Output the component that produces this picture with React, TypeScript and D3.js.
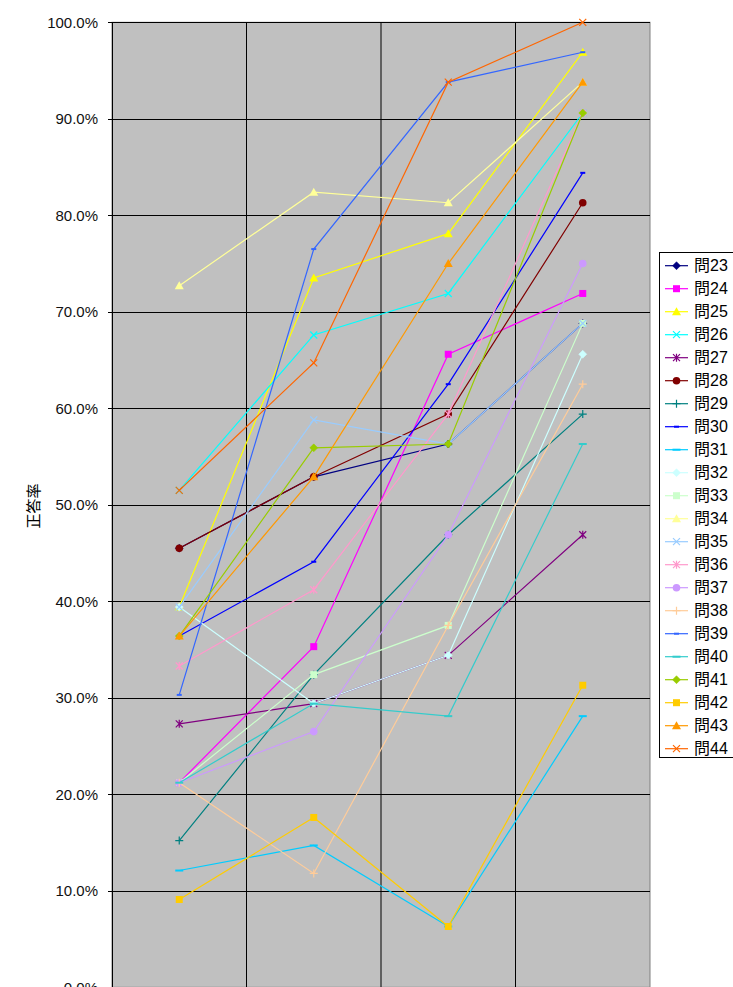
import React from 'react';
import * as d3 from 'd3';

const categories = ['1', '2', '3', '4'];
const yTicks = [0, 10, 20, 30, 40, 50, 60, 70, 80, 90, 100];

const seriesNames = ['問23', '問24', '問25', '問26', '問27', '問28', '問29', '問30', '問31', '問32', '問33',
  '問34', '問35', '問36', '問37', '問38', '問39', '問40', '問41', '問42', '問43', '問44'];

const seriesColors = ['#000080', '#FF00FF', '#FFFF00', '#00FFFF', '#800080', '#800000', '#008080', '#0000FF',
  '#00CCFF', '#CCFFFF', '#CCFFCC', '#FFFF99', '#99CCFF', '#FF99CC', '#CC99FF', '#FFCC99', '#3366FF',
  '#33CCCC', '#99CC00', '#FFCC00', '#FF9900', '#FF6600'];

const seriesMarkers = ['diamond', 'square', 'triangle', 'x', 'star', 'circle', 'plus', 'dash', 'longdash',
  'diamond', 'square', 'triangle', 'x', 'star', 'circle', 'plus', 'dash', 'longdash',
  'diamond', 'square', 'triangle', 'x'];

const q23 = [45.5, 52.9, 56.3, 68.8];
const q24 = [21.2, 35.3, 65.6, 71.9];
const q25 = [39.4, 73.5, 78.1, 96.9];
const q26 = [51.5, 67.6, 71.9, 90.6];
const q27 = [27.3, 29.4, 34.4, 46.9];
const q28 = [45.5, 52.9, 59.4, 81.3];
const q29 = [15.2, 32.4, 46.9, 59.4];
const q30 = [36.4, 44.1, 62.5, 84.4];
const q31 = [12.1, 14.7, 6.3, 28.1];
const q32 = [39.4, 29.4, 34.4, 65.6];
const q33 = [21.2, 32.4, 37.5, 68.8];
const q34 = [72.7, 82.4, 81.3, 93.8];
const q35 = [39.4, 58.8, 56.3, 68.8];
const q36 = [33.3, 41.2, 59.4, 90.6];
const q37 = [21.2, 26.5, 46.9, 75.0];
const q38 = [21.2, 11.8, 37.5, 62.5];
const q39 = [30.3, 76.5, 93.8, 96.9];
const q40 = [21.2, 29.4, 28.1, 56.3];
const q41 = [36.4, 55.9, 56.3, 90.6];
const q42 = [9.1, 17.6, 6.3, 31.3];
const q43 = [36.4, 52.9, 75.0, 93.8];
const q44 = [51.5, 64.7, 93.8, 100.0];

const seriesValues = [q23, q24, q25, q26, q27, q28, q29, q30, q31, q32, q33, q34, q35, q36, q37, q38, q39, q40, q41, q42, q43, q44];

function Marker({ type, cx, cy, color }: { type: string; cx: number; cy: number; color: string }) {
  switch (type) {
    case 'diamond':
      return <path d={`M${cx},${cy - 4}L${cx + 4},${cy}L${cx},${cy + 4}L${cx - 4},${cy}Z`} fill={color} stroke={color} strokeWidth={0.5} />;
    case 'square':
      return <rect x={cx - 3.5} y={cy - 3.5} width={7} height={7} fill={color} />;
    case 'triangle':
      return <path d={`M${cx},${cy - 4.5}L${cx + 4.5},${cy + 3.5}L${cx - 4.5},${cy + 3.5}Z`} fill={color} />;
    case 'x':
      return <path d={`M${cx - 3.5},${cy - 3.5}L${cx + 3.5},${cy + 3.5}M${cx + 3.5},${cy - 3.5}L${cx - 3.5},${cy + 3.5}`} stroke={color} strokeWidth={1.2} fill="none" />;
    case 'star':
      return <path d={`M${cx - 3.5},${cy - 3.5}L${cx + 3.5},${cy + 3.5}M${cx + 3.5},${cy - 3.5}L${cx - 3.5},${cy + 3.5}M${cx},${cy - 4}L${cx},${cy + 4}`} stroke={color} strokeWidth={1.2} fill="none" />;
    case 'circle':
      return <circle cx={cx} cy={cy} r={3.8} fill={color} />;
    case 'plus':
      return <path d={`M${cx - 4},${cy}L${cx + 4},${cy}M${cx},${cy - 4}L${cx},${cy + 4}`} stroke={color} strokeWidth={1.2} fill="none" />;
    case 'dash':
      return <rect x={cx - 2.5} y={cy - 1} width={5} height={2} fill={color} />;
    case 'longdash':
      return <rect x={cx - 4} y={cy - 1} width={8} height={2} fill={color} />;
    default:
      return null;
  }
}

export default function App() {
  const W = 733, H = 987;
  const left = 112, right = 650, top = 22.3, bottom = 987.3;
  const x = d3.scaleBand<string>().domain(categories).range([left, right]).paddingInner(0).paddingOuter(0);
  const bw = x.bandwidth();
  const cx = (c: string) => (x(c) as number) + bw / 2;
  const y = d3.scaleLinear().domain([0, 100]).range([bottom, top]);
  const line = d3.line<number>().x((_, i) => cx(categories[i])).y((v) => y(v));
  const fmt = (v: number) => d3.format('.1f')(v) + '%';

  const legendTop = 252.5;
  const legendRow0 = 265.7;
  const legendStep = 23;

  return (
    <svg width={W} height={H} style={{ position: 'absolute', left: 0, top: 0, background: '#fff' }}
      fontFamily="'Liberation Sans', 'Noto Sans CJK JP', sans-serif">
      <rect x={left} y={top} width={right - left} height={bottom - top} fill="#C0C0C0" stroke="#808080" strokeWidth={1} />
      {yTicks.map((t) => (
        <line key={'h' + t} x1={left} x2={right} y1={Math.round(y(t)) + 0.5} y2={Math.round(y(t)) + 0.5} stroke="#000" strokeWidth={1} />
      ))}
      {categories.slice(1).map((c) => (
        <line key={'v' + c} x1={(x(c) as number)} x2={(x(c) as number)} y1={top} y2={bottom} stroke="#000" strokeWidth={1} />
      ))}
      <line x1={left + 0.5} x2={left + 0.5} y1={top} y2={bottom} stroke="#000" strokeWidth={1} />
      {yTicks.map((t) => (
        <line key={'tk' + t} x1={left - 4} x2={left} y1={Math.round(y(t)) + 0.5} y2={Math.round(y(t)) + 0.5} stroke="#000" strokeWidth={1} />
      ))}
      {yTicks.map((t) => (
        <text key={'tl' + t} x={98} y={y(t)} dy="0.36em" textAnchor="end" fontSize={15} fill="#111">{fmt(t)}</text>
      ))}
      <text transform={`translate(34,506) rotate(-90)`} textAnchor="middle" dy="0.35em" fontSize={15} fill="#000"
        fontFamily="'Noto Sans CJK JP', sans-serif">正答率</text>

      {seriesValues.map((vals, si) => (
        <g key={'s' + si}>
          <path d={line(vals) || ''} fill="none" stroke={seriesColors[si]} strokeWidth={1.2} />
          {vals.map((v, i) => (
            <Marker key={i} type={seriesMarkers[si]} cx={cx(categories[i])} cy={y(v)} color={seriesColors[si]} />
          ))}
        </g>
      ))}

      <rect x={659.5} y={legendTop} width={90} height={505} fill="#fff" stroke="#000" strokeWidth={1} />
      {seriesNames.map((name, si) => {
        const ly = legendRow0 + si * legendStep;
        return (
          <g key={'lg' + si}>
            <line x1={665} x2={688} y1={ly} y2={ly} stroke={seriesColors[si]} strokeWidth={1.2} />
            <Marker type={seriesMarkers[si]} cx={676.5} cy={ly} color={seriesColors[si]} />
            <text x={694} y={ly} dy="0.36em" fontSize={16} fill="#000">{name}</text>
          </g>
        );
      })}
    </svg>
  );
}
